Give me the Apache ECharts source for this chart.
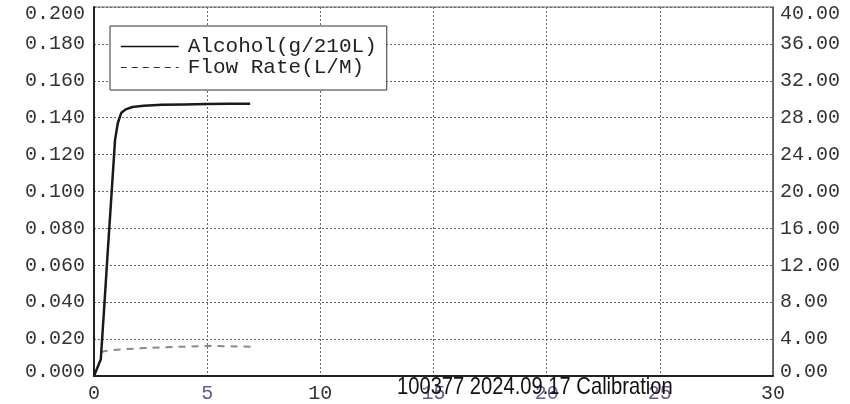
<!DOCTYPE html>
<html>
<head>
<meta charset="utf-8">
<script src="https://cdn.jsdelivr.net/npm/echarts@6/dist/echarts.min.js"></script>
<style>html,body{margin:0;padding:0;background:#fff;}#c{width:850px;height:404px;}</style>
</head>
<body>
<div id="c"></div>
<script>
var timeAlcohol = [0, 0.3, 0.45, 0.6, 0.75, 0.93, 1.05, 1.2, 1.4, 1.7, 2.2, 3, 4, 5, 6, 6.9];
var alcohol = [0, 0.009, 0.037, 0.066, 0.094, 0.128, 0.137, 0.1425, 0.1445, 0.1458, 0.1465, 0.147, 0.1472, 0.1474, 0.1476, 0.1476];
var timeFlow = [0.3, 0.6, 1, 2, 3, 4, 5, 6, 7.1];
var flowRate = [2.6, 2.75, 2.85, 3.0, 3.1, 3.18, 3.27, 3.22, 3.17];
var seriesNames = ['Alcohol(g/210L)', 'Flow Rate(L/M)'];
var overlayText = '100377 2024.09.17 Calibration';
var purpleTicks = [5, 15, 20, 25];

var mono = '"Liberation Mono", "DejaVu Sans Mono", monospace';
var chart = echarts.init(document.getElementById('c'));

function pairs(xs, ys) { return xs.map(function (x, i) { return [x, ys[i]]; }); }

function edgeFmt(min, max, digits) {
  return function (v) {
    var s = v.toFixed(digits);
    if (Math.abs(v - max) < 1e-9) return '{top|' + s + '}';
    if (Math.abs(v - min) < 1e-9) return '{bot|' + s + '}';
    return s;
  };
}
var edgeRich = {
  top: { fontFamily: mono, fontSize: 20, color: '#333', padding: [13, 0, 0, 0] },
  bot: { fontFamily: mono, fontSize: 20, color: '#333', padding: [0, 0, 8, 0] }
};

chart.setOption({
  animation: false,
  backgroundColor: '#fff',
  grid: { left: 94, right: 77, top: 7, bottom: 27, show: true, borderColor: '#666', borderWidth: 1, backgroundColor: 'transparent' },
  legend: {
    orient: 'vertical', left: 110, top: 26,
    padding: [10, 10, 12, 10], itemGap: 0,
    itemWidth: 58, itemHeight: 20,
    backgroundColor: '#fff', borderColor: '#333', borderWidth: 1, borderRadius: 0,
    textStyle: { fontFamily: mono, fontSize: 21, color: '#222', padding: [0, 0, 0, 4], lineHeight: 20 },
    data: [
      { name: seriesNames[0], itemStyle: { opacity: 0 }, lineStyle: { color: '#111', width: 1.5, type: 'solid' } },
      { name: seriesNames[1], itemStyle: { opacity: 0 }, lineStyle: { color: '#333', width: 1.2, type: [6, 5] } }
    ]
  },
  xAxis: {
    type: 'value', min: 0, max: 30, interval: 5,
    axisLine: { show: true, lineStyle: { color: '#222', width: 2 } },
    axisTick: { show: false },
    axisLabel: {
      margin: 8, fontFamily: mono, fontSize: 20, color: '#333',
      formatter: function (v) { return purpleTicks.indexOf(v) >= 0 ? '{p|' + v + '}' : String(v); },
      rich: { p: { fontFamily: mono, fontSize: 20, color: '#6b5a8e' } }
    },
    splitLine: { show: true, lineStyle: { color: '#666', width: 1, type: [2, 2] } }
  },
  yAxis: [
    {
      type: 'value', min: 0, max: 0.2, interval: 0.02, position: 'left',
      axisLine: { show: true, lineStyle: { color: '#222', width: 2 } },
      axisTick: { show: false },
      axisLabel: { margin: 9, fontFamily: mono, fontSize: 20, color: '#333', formatter: edgeFmt(0, 0.2, 3), rich: edgeRich },
      splitLine: { show: true, lineStyle: { color: '#666', width: 1, type: [2, 2] } }
    },
    {
      type: 'value', min: 0, max: 40, interval: 4, position: 'right',
      axisLine: { show: true, lineStyle: { color: '#555', width: 1.5 } },
      axisTick: { show: false },
      axisLabel: { margin: 7, fontFamily: mono, fontSize: 20, color: '#333', formatter: edgeFmt(0, 40, 2), rich: edgeRich },
      splitLine: { show: false }
    }
  ],
  series: [
    {
      name: seriesNames[0], type: 'line', yAxisIndex: 0, showSymbol: false, symbol: 'none',
      data: pairs(timeAlcohol, alcohol),
      lineStyle: { color: '#1a1a1a', width: 2.5 }, itemStyle: { color: '#1a1a1a' }, z: 5
    },
    {
      name: seriesNames[1], type: 'line', yAxisIndex: 1, showSymbol: false, symbol: 'none',
      data: pairs(timeFlow, flowRate),
      lineStyle: { color: '#8a8a8a', width: 2, type: [7, 6] }, itemStyle: { color: '#8a8a8a' }, z: 4
    }
  ],
  graphic: [
    {
      type: 'text', x: 397, y: 399, scaleX: 0.84, z: 100,
      style: { text: overlayText, x: 0, y: 0, fill: '#111', font: '24px "Liberation Sans", Arial, sans-serif', align: 'left', verticalAlign: 'bottom' }
    }
  ]
});
</script>
</body>
</html>
